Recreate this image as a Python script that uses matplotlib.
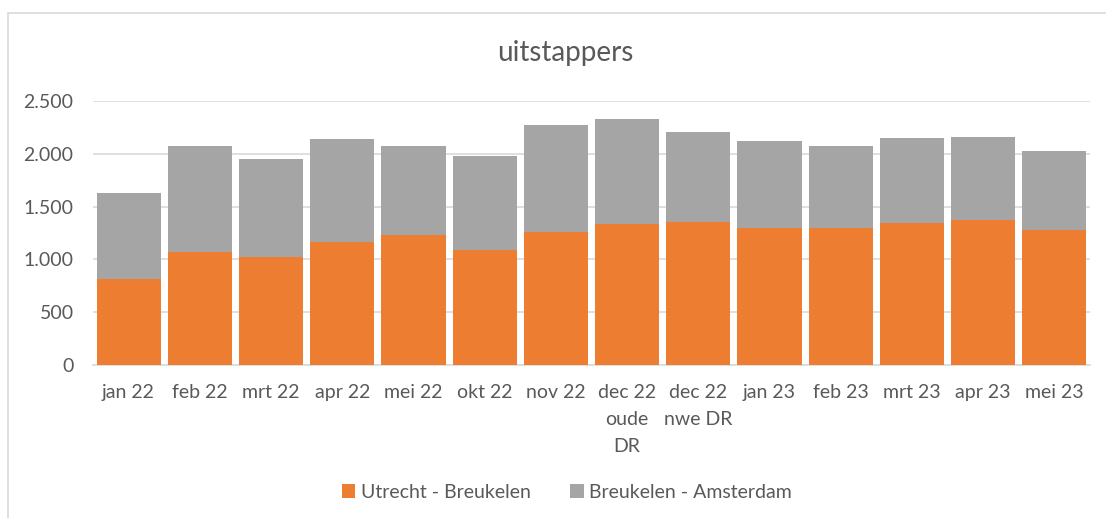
import numpy as np
import matplotlib
matplotlib.use("Agg")
import matplotlib.pyplot as plt
from matplotlib.patches import Rectangle
from matplotlib.ticker import FuncFormatter

plt.rcParams["font.family"] = ["Lato", "DejaVu Sans"]

# data
labels = ["jan 22", "feb 22", "mrt 22", "apr 22", "mei 22", "okt 22", "nov 22",
          "dec 22\noude\nDR", "dec 22\nnwe DR", "jan 23", "feb 23", "mrt 23",
          "apr 23", "mei 23"]
utrecht_breukelen = [818, 1068, 1027, 1166, 1230, 1090, 1261,
                     1331, 1353, 1296, 1296, 1340, 1375, 1274]
totals = [1629, 2072, 1955, 2139, 2072, 1977, 2272,
          2326, 2206, 2120, 2076, 2152, 2161, 2022]
breukelen_amsterdam = [t - u for t, u in zip(totals, utrecht_breukelen)]

orange = "#ED7D31"
grey = "#A5A5A5"
txt = "#595959"

fig = plt.figure(figsize=(11.06, 5.18), dpi=100)
W, H = 1106, 518
ax = fig.add_axes([93 / W, (H - 365) / H, (1090 - 93) / W, (365 - 101) / H])

x = np.arange(len(labels))
width = 0.9
ax.bar(x, utrecht_breukelen, width, color=orange, label="Utrecht - Breukelen", zorder=3)
ax.bar(x, breukelen_amsterdam, width, bottom=utrecht_breukelen, color=grey,
       label="Breukelen - Amsterdam", zorder=3)

ax.set_xlim(-0.5, len(labels) - 0.5)
ax.set_ylim(0, 2500)
ax.set_yticks(np.arange(0, 2501, 500))
ax.yaxis.set_major_formatter(FuncFormatter(lambda v, p: f"{int(v):,}".replace(",", ".")))
ax.grid(axis="y", color="#d9d9d9", linewidth=1.2, zorder=0)
for s in ["top", "right", "left"]:
    ax.spines[s].set_visible(False)
ax.spines["bottom"].set_color("#d9d9d9")
ax.spines["bottom"].set_linewidth(1.2)
ax.tick_params(axis="both", length=0, labelsize=14, colors=txt)
ax.tick_params(axis="y", pad=14)
ax.tick_params(axis="x", pad=14)
ax.set_xticks(x)
ax.set_xticklabels(labels, linespacing=1.7, va="top")

fig.text(565 / W, 1 - 53 / H, "uitstappers", ha="center", va="center",
         fontsize=20, color=txt)

fig.legend(loc="center", bbox_to_anchor=(567 / W, 1 - 492 / H), ncol=2,
           frameon=False, fontsize=14, handlelength=0.7, handleheight=0.7,
           handletextpad=0.3, columnspacing=2.0, labelcolor=txt)

# chart area border
fig.patches.append(Rectangle((8 / W, -0.1), 2, 1.1 - 13 / H, transform=fig.transFigure,
                             fill=False, edgecolor="#d9d9d9", linewidth=1.2))

fig.savefig("out.png", dpi=100)
